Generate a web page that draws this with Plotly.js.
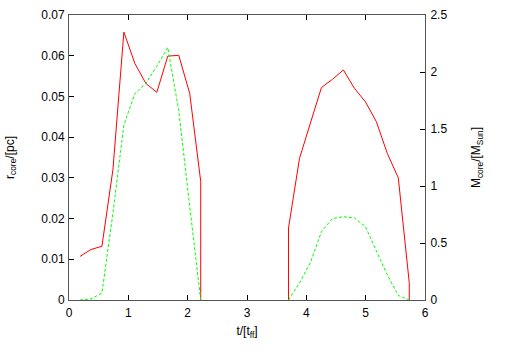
<!DOCTYPE html>
<html>
<head>
<meta charset="utf-8">
<script src="https://cdn.plot.ly/plotly-3.0.1.min.js"></script>
<style>html,body{margin:0;padding:0;background:#fff;}#chart{width:506px;height:354px;}</style>
</head>
<body>
<div id="chart"></div>
<script>
// time in free-fall times (null = gap between the two episodes)
const tRadius = [0.185, 0.37, 0.555, 0.74, 0.925, 1.11, 1.295, 1.48, 1.665, 1.85, 2.035, 2.22, 2.22, null,
                 3.70, 3.70, 3.885, 4.07, 4.255, 4.44, 4.625, 4.81, 4.995, 5.18, 5.365, 5.55, 5.735, 5.735];
// core radius [pc]
const rCore = [0.0107, 0.0124, 0.0132, 0.032, 0.0658, 0.0581, 0.0532, 0.0510, 0.0599, 0.0601, 0.0507, 0.0291, 0, null,
               0, 0.0177, 0.0348, 0.0438, 0.0522, 0.0542, 0.0565, 0.0520, 0.0487, 0.0438, 0.0360, 0.0300, 0.0042, 0];
const tMass = [0.185, 0.37, 0.555, 0.74, 0.925, 1.11, 1.295, 1.48, 1.665, 1.85, 2.035, 2.22, null,
               3.70, 3.885, 4.07, 4.255, 4.44, 4.625, 4.81, 4.995, 5.18, 5.365, 5.55, 5.735];
// core mass [M_sun]
const mCore = [0, 0.01, 0.06, 0.76, 1.535, 1.81, 1.90, 2.05, 2.215, 1.66, 0.82, 0, null,
               0, 0.15, 0.33, 0.60, 0.715, 0.73, 0.72, 0.645, 0.43, 0.22, 0.04, 0];

const xTicks = [0, 1, 2, 3, 4, 5, 6];
const yTicks = [0, 0.01, 0.02, 0.03, 0.04, 0.05, 0.06, 0.07];
const y2Ticks = [0, 0.5, 1, 1.5, 2, 2.5];

const font = {family: 'Liberation Sans, Arial, sans-serif', size: 12, color: '#000'};
const axisCol = '#555';

const traces = [
  {x: tRadius, y: rCore, type: 'scatter', mode: 'lines', connectgaps: false,
   line: {color: '#ff0000', width: 1}, name: 'r_core', showlegend: false},
  {x: tMass, y: mCore, type: 'scatter', mode: 'lines', connectgaps: false, yaxis: 'y2',
   line: {color: '#00ff00', width: 1, dash: '3px,2px'}, name: 'M_core', showlegend: false}
];

const layout = {
  width: 506, height: 354,
  margin: {l: 69, r: 81, t: 15, b: 53.5, pad: 0},
  paper_bgcolor: '#fff', plot_bgcolor: '#fff',
  font: font,
  xaxis: {
    range: [0, 6], tickvals: xTicks, ticktext: xTicks.map(String),
    ticks: 'inside', ticklen: 5, tickcolor: '#000', tickwidth: 1,
    showline: true, linecolor: axisCol, linewidth: 1, mirror: 'ticks',
    showgrid: false, zeroline: false, automargin: false,
    tickfont: font, ticklabelstandoff: 2,
    title: {text: 't/[t<sub>ff</sub>]', font: font, standoff: 7}
  },
  yaxis: {
    range: [0, 0.07], tickvals: yTicks, ticktext: yTicks.map(v => v === 0 ? '0' : v.toFixed(2)),
    ticks: 'inside', ticklen: 5, tickcolor: '#000', tickwidth: 1,
    showline: true, linecolor: axisCol, linewidth: 1,
    showgrid: false, zeroline: false, automargin: false,
    tickfont: font, ticklabelstandoff: 1,
    title: {text: 'r<sub>core</sub>/[pc]', font: font, standoff: 24}
  },
  yaxis2: {
    range: [0, 2.5], tickvals: y2Ticks, ticktext: y2Ticks.map(String),
    overlaying: 'y', side: 'right',
    ticks: 'inside', ticklen: 5, tickcolor: '#000', tickwidth: 1,
    showline: true, linecolor: axisCol, linewidth: 1,
    showgrid: false, zeroline: false, automargin: false,
    tickfont: font, ticklabelstandoff: 2,
    title: {text: 'M<sub>core</sub>/[M<sub>Sun</sub>]', font: font, standoff: 25}
  }
};

Plotly.newPlot('chart', traces, layout, {staticPlot: true, displayModeBar: false});
</script>
</body>
</html>
